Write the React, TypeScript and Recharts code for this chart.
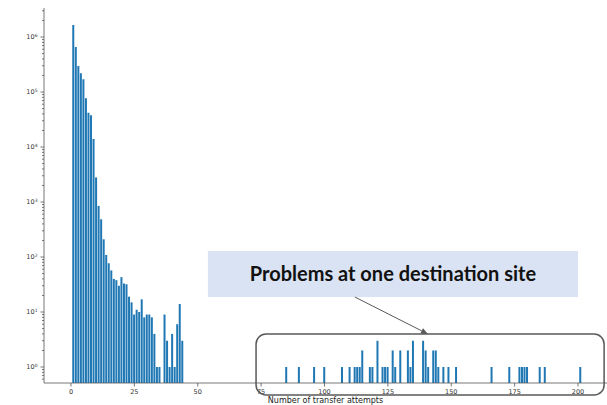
import React from 'react';
import { BarChart, Bar, XAxis, YAxis, ReferenceArea, ReferenceLine } from 'recharts';

// main body of the histogram (attempts 1..44, 36 is empty)
const mainAttempts = [1, 2, 3, 4, 5, 6, 7, 8, 9, 10, 11, 12, 13, 14, 15, 16, 17, 18, 19, 20, 21, 22, 23, 24, 25, 26, 27, 28, 29, 30, 31, 32, 33, 34, 35, 37, 38, 39, 40, 41, 42, 43, 44];
const mainCounts = [1650000, 660000, 297000, 220000, 170000, 77000, 42000, 38000, 14000, 2800, 850, 485, 210, 109, 77, 57, 40, 38, 30, 43, 33, 32, 19, 15, 9, 11, 10, 17, 8, 9, 9, 8, 4, 1, 1, 9, 3, 1, 4, 1, 6, 14, 3];

// long tail (problems at one destination site)
const tailAttempts = [85, 90, 96, 100, 107, 110, 112, 113, 114, 115, 118, 119, 121, 123, 124, 125, 127, 128, 130, 133, 134, 135, 139, 140, 141, 143, 144, 145, 147, 149, 152, 166, 173, 177, 178, 179, 180, 185, 187, 201];
const tailCounts = [1, 1, 1, 1, 1, 1, 1, 1, 1, 2, 1, 1, 3, 1, 1, 1, 2, 1, 2, 2, 1, 3, 3, 2, 1, 2, 2, 1, 1, 1, 1, 1, 1, 1, 1, 1, 1, 1, 1, 1];

const xTicks = [0, 25, 50, 75, 100, 125, 150, 175, 200];
const yMajor = [0.1, 1, 10, 100, 1000, 10000, 100000, 1000000];

const Y_MIN = 0.512;
const Y_MAX = 3.37e6;

const data = [
    ...mainAttempts.map((a, i) => ({ attempts: a, count: mainCounts[i] })),
    ...tailAttempts.map((a, i) => ({ attempts: a, count: tailCounts[i] })),
];

const yTicks = yMajor
    .flatMap((m) => [1, 2, 3, 4, 5, 6, 7, 8, 9].map((k) => k * m))
    .filter((v) => v >= Y_MIN && v <= Y_MAX);

const AXIS = '#555';
const TEXT = '#333';
const FONT = 'DejaVu Sans';

const YTick = ({ x, y, payload }: any) => {
    const e = Math.log10(payload.value);
    const major = Math.abs(e - Math.round(e)) < 1e-6;
    return (
        <g>
            <line x1={x - (major ? 3.5 : 2)} x2={x} y1={y} y2={y} stroke={AXIS} strokeWidth={0.8} />
            {major && (
                <text x={x - 6.5} y={y + 2.3} textAnchor="end" fontSize={6.5} fill={TEXT} fontFamily={FONT}>
                    10<tspan dy={-2.8} fontSize={4.5}>{Math.round(e)}</tspan>
                </text>
            )}
        </g>
    );
};

const XTick = ({ x, y, payload }: any) => (
    <g>
        <line x1={x} x2={x} y1={y} y2={y + 3.5} stroke={AXIS} strokeWidth={0.8} />
        <text x={x} y={y + 11} textAnchor="middle" fontSize={6.5} fill={TEXT} fontFamily={FONT}>
            {payload.value}
        </text>
    </g>
);

const CalloutBox = ({ x, y, width, height }: any) => (
    <g>
        <rect x={x} y={y} width={width} height={height} fill="#dae3f3" />
        <text
            x={x + width / 2}
            y={y + height / 2 + 7}
            textAnchor="middle"
            fontSize={20}
            fontWeight="bold"
            fontFamily="Lato"
            fill="#111"
        >
            Problems at one destination site
        </text>
    </g>
);

const TailFrame = ({ x, y, width, height }: any) => (
    <rect x={x} y={y} width={width} height={height} rx={10} ry={10} fill="none" stroke="#595959" strokeWidth={1.5} />
);

const Arrow = ({ x1, y1, x2, y2 }: any) => {
    const ang = Math.atan2(y2 - y1, x2 - x1);
    const len = 7;
    const w = 3;
    const bx = x2 - len * Math.cos(ang);
    const by = y2 - len * Math.sin(ang);
    const px = -Math.sin(ang) * w;
    const py = Math.cos(ang) * w;
    return (
        <g>
            <line x1={x1} y1={y1} x2={bx} y2={by} stroke="#595959" strokeWidth={1} />
            <polygon points={`${x2},${y2} ${bx + px},${by + py} ${bx - px},${by - py}`} fill="#595959" />
        </g>
    );
};

export default function App() {
    return (
        <div style={{ position: 'absolute', left: 0, top: 0, width: 607, height: 405, background: '#fff', overflow: 'hidden' }}>
            <BarChart width={607} height={405} data={data} margin={{ top: 8, right: 0, left: 0, bottom: 0 }}>
                <XAxis
                    dataKey="attempts"
                    type="number"
                    domain={[-10.65, 211.44]}
                    allowDataOverflow
                    ticks={xTicks}
                    interval={0}
                    height={22}
                    tickSize={0}
                    tickMargin={0}
                    tickLine={false}
                    tick={<XTick />}
                    axisLine={{ stroke: AXIS, strokeWidth: 0.8 }}
                    label={{ value: 'Number of transfer attempts', position: 'insideBottom', offset: 2, fontSize: 8, fill: '#222', fontFamily: FONT }}
                />
                <XAxis
                    xAxisId="top"
                    orientation="top"
                    type="number"
                    domain={[-10.65, 211.44]}
                    height={0}
                    tick={false}
                    tickLine={false}
                    axisLine={{ stroke: AXIS, strokeWidth: 0.8 }}
                />
                <YAxis
                    type="number"
                    scale="log"
                    domain={[Y_MIN, Y_MAX]}
                    allowDataOverflow
                    ticks={yTicks}
                    interval={0}
                    width={44}
                    tickSize={0}
                    tickMargin={0}
                    tickLine={false}
                    tick={<YTick />}
                    axisLine={{ stroke: AXIS, strokeWidth: 0.8 }}
                />
                <Bar dataKey="count" fill="#1f77b4" barSize={2} isAnimationActive={false} />
                <ReferenceArea x1={54} x2={200} y1={18.7} y2={128.5} ifOverflow="visible" shape={(p: any) => <CalloutBox {...p} />} />
                <ReferenceArea x1={73} x2={210.3} y1={0.31} y2={3.98} ifOverflow="visible" shape={(p: any) => <TailFrame {...p} />} />
                <ReferenceLine
                    segment={[{ x: 112, y: 18.7 }, { x: 140.8, y: 3.98 }]}
                    ifOverflow="visible"
                    shape={(p: any) => <Arrow {...p} />}
                />
            </BarChart>
        </div>
    );
}
